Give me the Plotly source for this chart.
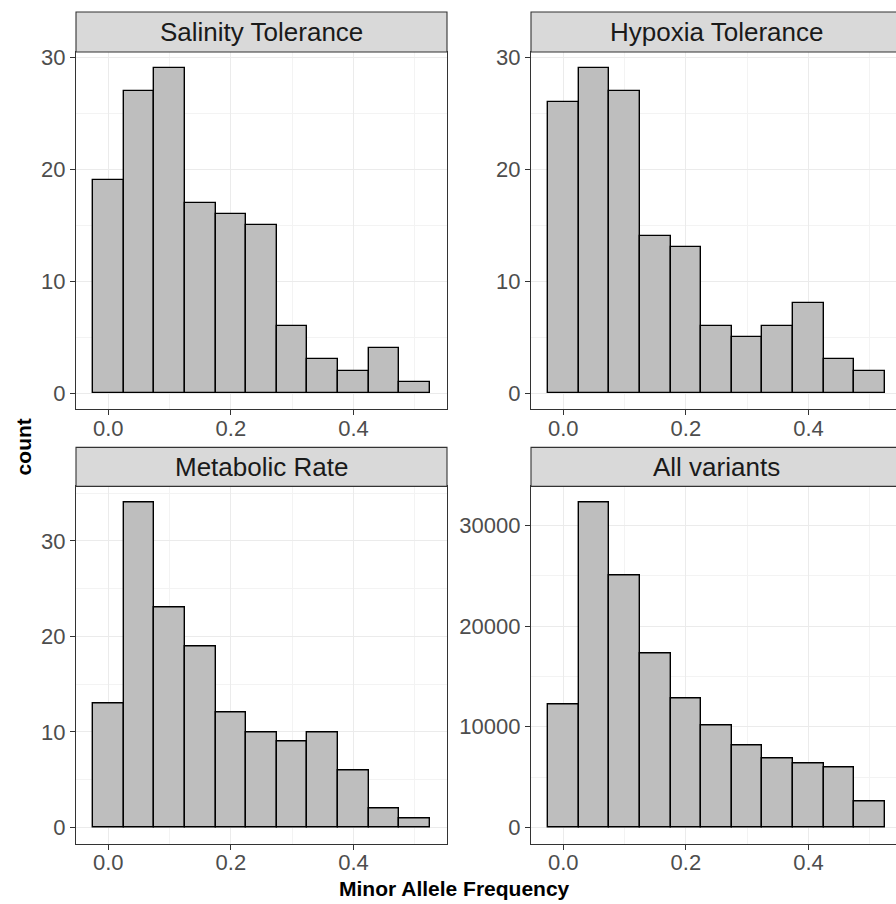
import plotly.graph_objects as go

# ---- data ----
bin_centers = [0.0, 0.05, 0.10, 0.15, 0.20, 0.25, 0.30, 0.35, 0.40, 0.45, 0.50]
bin_width = 0.05
panel_titles = ["Salinity Tolerance", "Hypoxia Tolerance", "Metabolic Rate", "All variants"]
salinity_counts = [19, 27, 29, 17, 16, 15, 6, 3, 2, 4, 1]
hypoxia_counts = [26, 29, 27, 14, 13, 6, 5, 6, 8, 3, 2]
metabolic_counts = [13, 34, 23, 19, 12, 10, 9, 10, 6, 2, 1]
all_counts = [12200, 32250, 25030, 17300, 12830, 10180, 8120, 6860, 6400, 5930, 2590]
x_tick_vals = [0.0, 0.2, 0.4]
x_title = "Minor Allele Frequency"
y_title = "count"

series = [salinity_counts, hypoxia_counts, metabolic_counts, all_counts]

W, H = 896, 904
FONT = "Liberation Sans, Arial, Helvetica, sans-serif"

def px_x(v):
    return v / W

def px_y(v):
    # compensate for observed vertical mapping of the rendered page
    g = (v - 7.0) / 0.9914
    return (H - g) / H

# panel geometry (pixels, as in the reference)
left_x = (76, 447)
right_x = (531, 902)
top_y = (52, 409)
bot_y = (486, 843)
top_strip = (12, 52)
bot_strip = (447, 486)

fig = go.Figure()

axes_ids = ["", "2", "3", "4"]
for i, counts in enumerate(series):
    fig.add_trace(go.Bar(
        x=bin_centers, y=counts, width=bin_width,
        marker=dict(color="#BEBEBE", line=dict(color="#000000", width=1.4)),
        xaxis="x" + axes_ids[i], yaxis="y" + axes_ids[i],
        showlegend=False, hoverinfo="x+y",
    ))

grid_major = "#EBEBEB"
grid_minor = "#F3F3F3"

def xaxis_cfg(domain, anchor, rng, mirror):
    return dict(
        domain=domain, anchor=anchor, range=rng,
        tickvals=x_tick_vals, tickformat=".1f",
        showgrid=True, gridcolor=grid_major, gridwidth=1.1,
        minor=dict(tickvals=[0.1, 0.3, 0.5], showgrid=True, gridcolor=grid_minor, gridwidth=0.6, ticks=""),
        ticks="outside", ticklen=5, tickwidth=1.1, tickcolor="#333333",
        ticklabelstandoff=-6,
        showline=True, linecolor="#333333", linewidth=1.1, mirror=mirror,
        zeroline=False,
        tickfont=dict(family=FONT, size=22, color="#4D4D4D"),
        fixedrange=True,
    )

def yaxis_cfg(domain, anchor, rng, dtick, mirror):
    return dict(
        domain=domain, anchor=anchor, range=rng,
        dtick=dtick, tick0=0, tickformat="d",
        showgrid=True, gridcolor=grid_major, gridwidth=1.1,
        minor=dict(dtick=dtick / 2, tick0=dtick / 2, showgrid=True, gridcolor=grid_minor, gridwidth=0.6, ticks=""),
        ticks="outside", ticklen=5, tickwidth=1.1, tickcolor="#333333",
        showline=True, linecolor="#333333", linewidth=1.1, mirror=mirror,
        zeroline=False,
        tickfont=dict(family=FONT, size=22, color="#4D4D4D"),
        fixedrange=True,
    )

xl = [px_x(left_x[0]), px_x(left_x[1])]
xr = [px_x(right_x[0]), 1.0]
yt = [px_y(top_y[1]), px_y(top_y[0])]
yb = [px_y(bot_y[1]), px_y(bot_y[0])]

# right panels are clipped at the image edge
x_rng_left = [-0.0525, 0.5525]
x_rng_right = [-0.0525, -0.0525 + (896 - 531) / (right_x[1] - right_x[0]) * 0.605]

def yrng(counts):
    m = max(counts)
    return [-0.05 * m, 1.05 * m]

fig.update_layout(
    xaxis=xaxis_cfg(xl, "y", x_rng_left, True),
    yaxis=yaxis_cfg(yt, "x", yrng(salinity_counts), 10, True),
    xaxis2=xaxis_cfg(xr, "y2", x_rng_right, True),
    yaxis2=yaxis_cfg(yt, "x2", yrng(hypoxia_counts), 10, False),
    xaxis3=xaxis_cfg(xl, "y3", x_rng_left, True),
    yaxis3=yaxis_cfg(yb, "x3", yrng(metabolic_counts), 10, True),
    xaxis4=xaxis_cfg(xr, "y4", x_rng_right, True),
    yaxis4=yaxis_cfg(yb, "x4", yrng(all_counts), 10000, False),
)

shapes = []
annotations = []
strips = [
    (left_x, top_strip, panel_titles[0]),
    (right_x, top_strip, panel_titles[1]),
    (left_x, bot_strip, panel_titles[2]),
    (right_x, bot_strip, panel_titles[3]),
]
for (sx, sy, title) in strips:
    x1 = px_x(sx[1]) if sx[1] <= W else 1.02
    shapes.append(dict(
        type="rect", xref="paper", yref="paper",
        x0=px_x(sx[0]), x1=x1, y0=px_y(sy[1]), y1=px_y(sy[0]),
        fillcolor="#D9D9D9", line=dict(color="#333333", width=1.1), layer="above",
    ))
    annotations.append(dict(
        xref="paper", yref="paper",
        x=px_x((sx[0] + sx[1]) / 2), y=px_y((sy[0] + sy[1]) / 2),
        text=title, showarrow=False, xanchor="center", yanchor="middle",
        font=dict(family=FONT, size=26, color="#1A1A1A"),
    ))

annotations.append(dict(
    xref="paper", yref="paper", x=px_x(454), y=px_y(888),
    text="<b>" + x_title + "</b>", showarrow=False, xanchor="center", yanchor="middle",
    font=dict(family=FONT, size=21, color="#000000"),
))
annotations.append(dict(
    xref="paper", yref="paper", x=px_x(23), y=px_y(447),
    text="<b>" + y_title + "</b>", showarrow=False, xanchor="center", yanchor="middle",
    textangle=-90,
    font=dict(family=FONT, size=21, color="#000000"),
))

fig.update_layout(
    width=W, height=H,
    margin=dict(l=0, r=0, t=0, b=0),
    paper_bgcolor="white", plot_bgcolor="white",
    shapes=shapes, annotations=annotations,
    bargap=0, showlegend=False,
    font=dict(family=FONT),
)

post = (
    "document.body.style.margin='0';document.body.style.padding='0';"
    "document.body.style.overflow='hidden';"
    "var d=document.getElementById('{plot_id}');"
    "d.style.position='absolute';d.style.left='0px';d.style.top='0px';"
)
fig.write_html("out.html", post_script=post, config={"displayModeBar": False})
